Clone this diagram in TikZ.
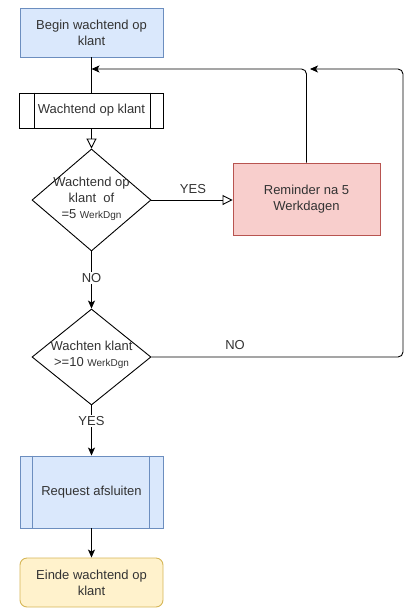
\documentclass[tikz,border=0pt]{standalone}
\usepackage{fontspec}
\setmainfont{Liberation Sans}
\usetikzlibrary{shapes.geometric,arrows.meta}
\definecolor{bluefill}{HTML}{DAE8FC}
\definecolor{bluedraw}{HTML}{6C8EBF}
\definecolor{redfill}{HTML}{F8CECC}
\definecolor{reddraw}{HTML}{B85450}
\definecolor{yelfill}{HTML}{FFF2CC}
\definecolor{yeldraw}{HTML}{D6B656}
\definecolor{txt}{HTML}{333333}
\begin{document}
\begin{tikzpicture}[x=1pt,y=-1pt,
  every node/.style={font=\fontsize{13}{16}\selectfont, text=txt, align=center, inner sep=0pt},
  box/.style={draw, line width=0.9pt, rectangle, minimum width=#1},
  dia/.style={draw, line width=0.9pt, diamond, minimum width=119pt, inner sep=0pt, fill=white},
  conn/.style={line width=0.9pt},
  fa/.style={conn, -{Stealth[length=8pt,width=7pt,inset=2pt]}},
  oa/.style={conn, -{Triangle[open,length=10pt,width=10pt,fill=white]}},
  lbl/.style={fill=white, inner sep=1.5pt}
]
\useasboundingbox (0,0) rectangle (405,611);

% nodes
\node[box=143pt, minimum height=49pt, fill=bluefill, draw=bluedraw] (begin) at (91.5,32.5) {Begin wachtend op\\klant};
\node[box=144pt, minimum height=35pt, fill=white] (wait) at (91.5,110.5) {Wachtend op klant};
\node[dia, minimum height=102pt] (d1) at (91.5,200) {};
\node (d1t) at (91.5,199) {Wachtend op\\klant\ \ of\\=5 {\fontsize{10}{16}\selectfont WerkDgn}};
\node[box=147pt, minimum height=72pt, fill=redfill, draw=reddraw] (rem) at (306.5,199) {Reminder na 5\\Werkdagen};
\node[dia, minimum height=96pt] (d2) at (91.5,357) {};
\node (d2t) at (91.5,355) {Wachten klant\\>=10 {\fontsize{10}{16}\selectfont WerkDgn}};
\node[box=143pt, minimum height=72pt, fill=bluefill, draw=bluedraw] (req) at (91.5,492) {Request afsluiten};
\node[box=143pt, minimum height=49pt, fill=yelfill, draw=yeldraw, rounded corners=7pt] (end) at (91.5,582.5) {Einde wachtend op\\klant};

% inner lines of process boxes
\draw[line width=0.9pt] ([xshift=15pt]wait.north west) -- ([xshift=15pt]wait.south west);
\draw[line width=0.9pt] ([xshift=-14pt]wait.north east) -- ([xshift=-14pt]wait.south east);
\draw[line width=0.9pt, draw=bluedraw] ([xshift=13pt]req.north west) -- ([xshift=13pt]req.south west);
\draw[line width=0.9pt, draw=bluedraw] ([xshift=-14pt]req.north east) -- ([xshift=-14pt]req.south east);

% coordinates
\coordinate (join) at (91.5,69);
\coordinate (loopin) at (310,69);
\coordinate (right) at (403,357);

% connectors
\draw[conn] (begin.south) -- (wait.north);
\draw[oa] (wait.south) -- (d1.north);
\draw[oa] (d1.east) -- (d1.east -| rem.west);
\node (yes1) at (193,189) {YES};
\draw[fa, rounded corners=5pt] (rem.north) |- (join);
\draw[fa] (d1.south) -- (d2.north);
\node[lbl] (no1) at (91.5,278) {NO};
\draw[fa, rounded corners=5pt] (d2.east) -- (right) |- (loopin);
\node (no2) at (235,345) {NO};
\draw[fa] (d2.south) -- (req.north);
\node[lbl] (yes2) at (91.5,421) {YES};
\draw[fa] (req.south) -- (end.north);
\end{tikzpicture}
\end{document}
